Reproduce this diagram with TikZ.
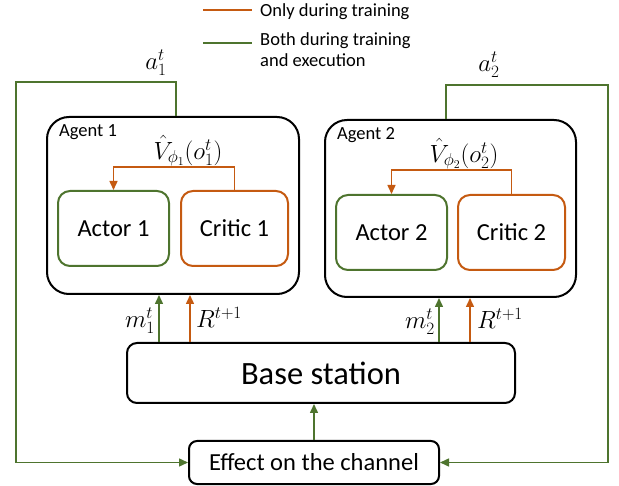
\documentclass[tikz,border=0pt]{standalone}
\usepackage{fontspec}
\setmainfont{Carlito}
\usetikzlibrary{arrows.meta}
\definecolor{tr}{RGB}{197,90,17}
\definecolor{gr}{RGB}{78,116,46}
\begin{document}
\begin{tikzpicture}[x=1pt,y=-1pt,
  agentbox/.style={draw=black, line width=2pt, rounded corners=22pt, inner sep=0pt},
  greenbox/.style={draw=gr, line width=2pt, rounded corners=12pt, inner sep=0pt, font=\fontsize{24.5}{28}\selectfont},
  orangebox/.style={draw=tr, line width=2pt, rounded corners=12pt, inner sep=0pt, font=\fontsize{24.5}{28}\selectfont},
  blackbox/.style={draw=black, line width=2pt, inner sep=0pt},
  tip/.style={-{Triangle[length=9pt,width=8pt]}},
  gline/.style={draw=gr, line width=1.5pt},
  oline/.style={draw=tr, line width=1.5pt},
  mathlbl/.style={inner sep=0pt, font=\fontsize{24}{28}\selectfont},
  smalllbl/.style={inner sep=0pt, font=\fontsize{18.5}{22}\selectfont, anchor=west},
]
\useasboundingbox (0,0) rectangle (619,486);

% legend
\coordinate (lo1) at (203,10);
\coordinate (lo2) at (252,10);
\coordinate (lg1) at (203,43);
\coordinate (lg2) at (252,43);
\draw[oline, line width=2pt] (lo1) -- (lo2);
\draw[gline, line width=2pt] (lg1) -- (lg2);
\node[smalllbl] (legO) at (260,12) {Only during training};
\node[smalllbl, align=left] (legG) at (260,50) {Both during training\\[-1pt]and execution};

% agents
\node[agentbox, minimum width=252, minimum height=177] (ag1) at (173,205.5) {};
\node[agentbox, minimum width=251, minimum height=177] (ag2) at (450.5,208.5) {};
\node[smalllbl] (ag1lbl) at (59,132) {Agent 1};
\node[smalllbl] (ag2lbl) at (337,135) {Agent 2};

\node[greenbox, minimum width=111, minimum height=75] (ac1) at (113.5,228.5) {Actor 1};
\node[orangebox, minimum width=107, minimum height=75] (cr1) at (234.5,228.5) {Critic 1};
\node[greenbox, minimum width=111, minimum height=75] (ac2) at (391.5,232.5) {Actor 2};
\node[orangebox, minimum width=107, minimum height=75] (cr2) at (511.5,232.5) {Critic 2};

\node[mathlbl] (v1) at (188,151) {$\hat{V}_{\phi_1}(o_1^t)$};
\node[mathlbl] (v2) at (464,154) {$\hat{V}_{\phi_2}(o_2^t)$};

\coordinate (k1) at (170,167);
\coordinate (k2) at (450,170);
\draw[oline, tip] (cr1.north) |- (k1) -| (ac1.north);
\draw[oline, tip] (cr2.north) |- (k2) -| (ac2.north);

% base station and channel
\node[blackbox, rounded corners=10pt, minimum width=388, minimum height=60, font=\fontsize{32.5}{36}\selectfont] (bs) at (321,373) {Base station};
\node[blackbox, rounded corners=8pt, minimum width=250, minimum height=43, font=\fontsize{24.5}{28}\selectfont] (eff) at (314,462.5) {Effect on the channel};

\coordinate (m1x) at (159,0);
\coordinate (r1x) at (190,0);
\coordinate (m2x) at (439,0);
\coordinate (r2x) at (470,0);
\draw[gline, tip] (bs.north -| m1x) -- (ag1.south -| m1x);
\draw[oline, tip] (bs.north -| r1x) -- (ag1.south -| r1x);
\draw[gline, tip] (bs.north -| m2x) -- (ag2.south -| m2x);
\draw[oline, tip] (bs.north -| r2x) -- (ag2.south -| r2x);

\node[mathlbl, anchor=east] (m1) at (155,321) {$m_1^t$};
\node[mathlbl, anchor=west] (r1) at (196,317) {$R^{t+1}$};
\node[mathlbl, anchor=east] (m2) at (435,322) {$m_2^t$};
\node[mathlbl, anchor=west] (r2) at (477,318) {$R^{t+1}$};

\draw[gline, tip] (eff.north) -- (eff.north |- bs.south);

% action loops
\coordinate (a1x) at (176,0);
\coordinate (a2x) at (446,0);
\coordinate (lt) at (16,82);
\coordinate (rt) at (608,85);
\draw[gline, tip] (ag1.north -| a1x) |- (lt) |- (eff.west);
\draw[gline, tip] (ag2.north -| a2x) |- (rt) |- (eff.east);
\node[mathlbl] (a1) at (156,63) {$a_1^t$};
\node[mathlbl] (a2) at (489,65) {$a_2^t$};
\end{tikzpicture}
\end{document}
